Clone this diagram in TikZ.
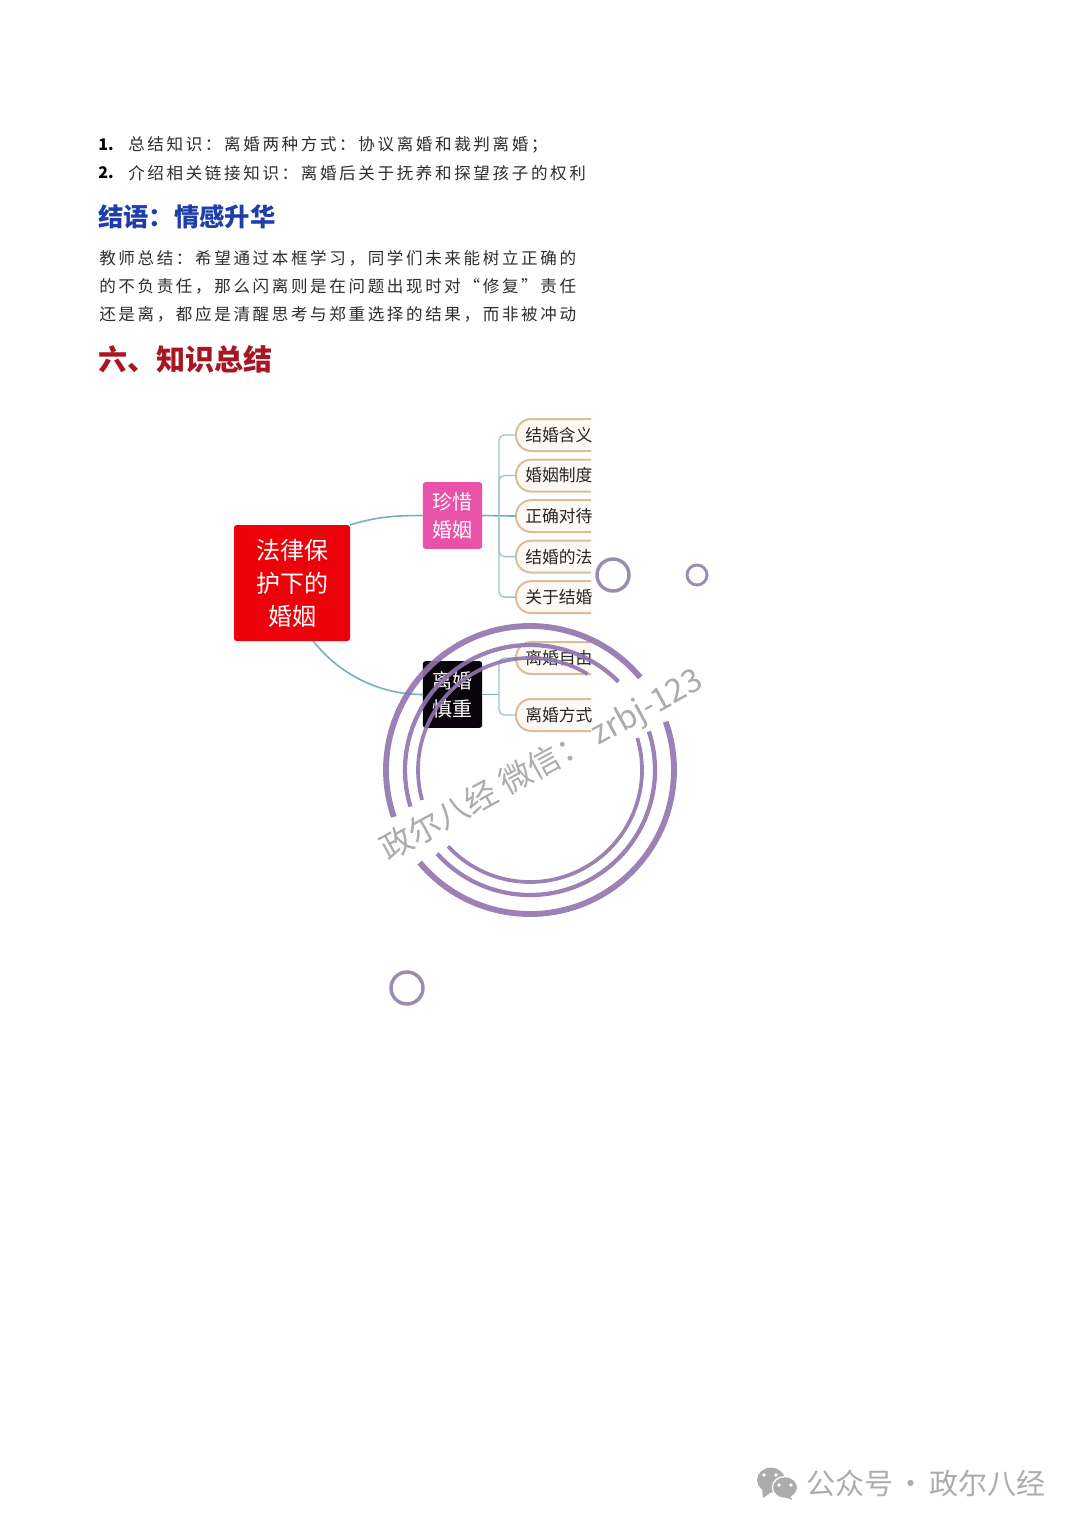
\documentclass[tikz,border=0pt]{standalone}
\usepackage{fontspec}
\setmainfont{Noto Sans CJK SC}
\newfontfamily\bodyfont[LetterSpace=16]{Noto Sans CJK SC}
\usepackage{xcolor}
\usetikzlibrary{shapes.geometric,positioning,calc}
\definecolor{myblue}{RGB}{32,62,170}
\definecolor{myred}{RGB}{168,22,34}
\definecolor{myroot}{RGB}{236,0,10}
\definecolor{mypink}{RGB}{232,82,168}
\definecolor{myblack}{RGB}{8,4,10}
\definecolor{myteal}{RGB}{120,175,190}
\definecolor{mytan}{RGB}{218,190,155}
\definecolor{mycream}{RGB}{254,250,243}
\definecolor{mypurple}{RGB}{143,116,175}
\definecolor{mydot}{RGB}{155,140,178}
\definecolor{mymark}{RGB}{172,172,172}
\definecolor{darkgray}{RGB}{45,45,45}
\tikzset{
  line/.style={anchor=west,inner sep=0pt,text=darkgray,font=\bodyfont\fontsize{12.4}{14}\selectfont},
  numline/.style={anchor=west,inner sep=0pt,text=black,font=\bfseries\fontsize{12}{14}\selectfont},
  mainbox/.style={rounded corners=2pt,fill=#1,text=white,align=center,inner sep=0pt,outer sep=0pt},
  kidbox/.style={draw=mytan,line width=1.5pt,fill=mycream,rounded corners=11.5pt,anchor=west,
    minimum height=24pt,text width=92pt,align=left,inner xsep=7pt,inner ysep=0pt,outer sep=0pt,
    text=black!85,font=\fontsize{12.6}{14}\selectfont},
}
\begin{document}
\begin{tikzpicture}[
    x=0.75pt,y=-0.75pt,
    link/.style={myteal,line width=1.2pt},
    branch/.style={myteal!75,line width=1pt,rounded corners=4pt},
    ring/.style={mypurple,opacity=.9},
    dot/.style={draw=mydot,circle,inner sep=0pt,outer sep=0pt},
  ]
    \useasboundingbox (0,0) rectangle (1080,1527);

    %────────── TEXT ───────────────
    \node[numline] (num1) at (98,145) {1.};
    \node[line] (list1) at (128,145) {总结知识：离婚两种方式：协议离婚和裁判离婚；};
    \node[numline] (num2) at (98,173) {2.};
    \node[line] (list2) at (128,173) {介绍相关链接知识：离婚后关于抚养和探望孩子的权利};
    \node[anchor=west,inner sep=0pt,text=myblue,font=\bfseries\fontsize{19}{22}\selectfont] (head1) at (98,217) {结语：情感升华};
    \node[line] (para1) at (99,258) {教师总结：希望通过本框学习，同学们未来能树立正确的};
    \node[line] (para2) at (99,286) {的不负责任，那么闪离则是在问题出现时对“修复”责任};
    \node[line] (para3) at (99,314) {还是离，都应是清醒思考与郑重选择的结果，而非被冲动};
    \node[anchor=west,inner sep=0pt,text=myred,font=\bfseries\fontsize{21.8}{24}\selectfont] (head2) at (98,359) {六、知识总结};

    %────────── MAIN BOXES ─────────
    \node[mainbox=myroot,minimum width=87pt,minimum height=87pt,font=\fontsize{18}{24.75}\selectfont] (root) at (292,583) {法律保\\护下的\\婚姻};
    \node[mainbox=mypink,minimum width=44.5pt,minimum height=50pt,font=\fontsize{15}{21}\selectfont] (cherish) at (452.5,515.5) {珍惜\\婚姻};
    \node[mainbox=myblack,minimum width=44.5pt,minimum height=50pt,font=\fontsize{15}{21}\selectfont] (careful) at (452.5,694.5) {离婚\\慎重};

    %────────── KIDS ───────────────
    \begin{scope}
      \clip (500,400) rectangle (591,750);
      \node[kidbox] (kida1) at (516,435) {结婚含义};
      \node[kidbox,below=6.4pt of kida1] (kida2) {婚姻制度};
      \node[kidbox,below=6.4pt of kida2] (kida3) {正确对待};
      \node[kidbox,below=6.4pt of kida3] (kida4) {结婚的法};
      \node[kidbox,below=6.4pt of kida4] (kida5) {关于结婚};
      \node[kidbox] (kidb1) at (516,658) {离婚自由};
      \node[kidbox] (kidb2) at (516,715) {离婚方式};
    \end{scope}

    %────────── LINKS ──────────────
    \draw[link] (root.north east) .. controls (375,517) and (395,515.5) .. (cherish.west);
    \draw[link] (root.-70) .. controls (340,675) and (380,694.5) .. (careful.west);
    \coordinate (busa) at (499,515.5);
    \coordinate (busb) at (499,694.5);
    \draw[link] (cherish.east) -- (kida3.west);
    \draw[branch] (busa) |- (kida1.west);
    \draw[branch] (busa) |- (kida2.west);
    \draw[branch] (busa) |- (kida4.west);
    \draw[branch] (busa) |- (kida5.west);
    \draw[link] (careful.east) -- (busb);
    \draw[branch] (busb) |- (kidb1.west);
    \draw[branch] (busb) |- (kidb2.west);

    %────────── WATERMARK ──────────
    \coordinate (ringc) at (530,770);
    \draw[ring,line width=4.4pt] ($(ringc)+(-40:144)$) arc[start angle=-40,end angle=-199,radius=144];
    \draw[ring,line width=4.4pt] ($(ringc)+(-220:144)$) arc[start angle=-220,end angle=-379.6,radius=144];
    \draw[ring,line width=3.2pt] ($(ringc)+(-45:125)$) arc[start angle=-45,end angle=-197,radius=125];
    \draw[ring,line width=3.2pt] ($(ringc)+(-222:125)$) arc[start angle=-222,end angle=-378,radius=125];
    \draw[ring,line width=2.8pt] ($(ringc)+(-59:112)$) arc[start angle=-59,end angle=-195.5,radius=112];
    \draw[ring,line width=2.8pt] ($(ringc)+(-223:112)$) arc[start angle=-223,end angle=-376.6,radius=112];
    \node[dot,line width=2.6pt,minimum size=24pt] (dota) at (613,575) {};
    \node[dot,line width=2.2pt,minimum size=15pt] (dotb) at (697,575) {};
    \node[dot,line width=2.6pt,minimum size=24pt] (dotc) at (407,988) {};
    \node[rotate=28.8,inner sep=0pt,text=mymark,font=\fontsize{24.2}{28}\selectfont] (stamp) at (542,766) {政尔八经 微信： zrbj-123};

    %────────── FOOTER ─────────────
    \node[ellipse,fill=mymark,minimum width=21pt,minimum height=18.5pt,inner sep=0pt] (bubblea) at (771,1480) {};
    \fill[mymark] (762,1489) -- (763,1498) -- (773,1491) -- cycle;
    \node[ellipse,fill=mymark,draw=white,line width=1pt,minimum width=19pt,minimum height=16.5pt,inner sep=0pt] (bubbleb) at (785,1487.5) {};
    \fill[mymark] (790,1494) -- (792,1500) -- (783,1496) -- cycle;
    \foreach \ex/\ey/\en in {764/1475/eyea,776/1475/eyeb,779/1485/eyec,791/1485/eyed}
      \node[circle,fill=white,minimum size=2.8pt,inner sep=0pt] (\en) at (\ex,\ey) {};
    \node[anchor=west,inner sep=0pt,text=mymark,font=\fontsize{21.8}{24}\selectfont] (brand) at (806,1483) {公众号\kern2.5pt·\kern2.5pt政尔八经};
  \end{tikzpicture}
\end{document}
